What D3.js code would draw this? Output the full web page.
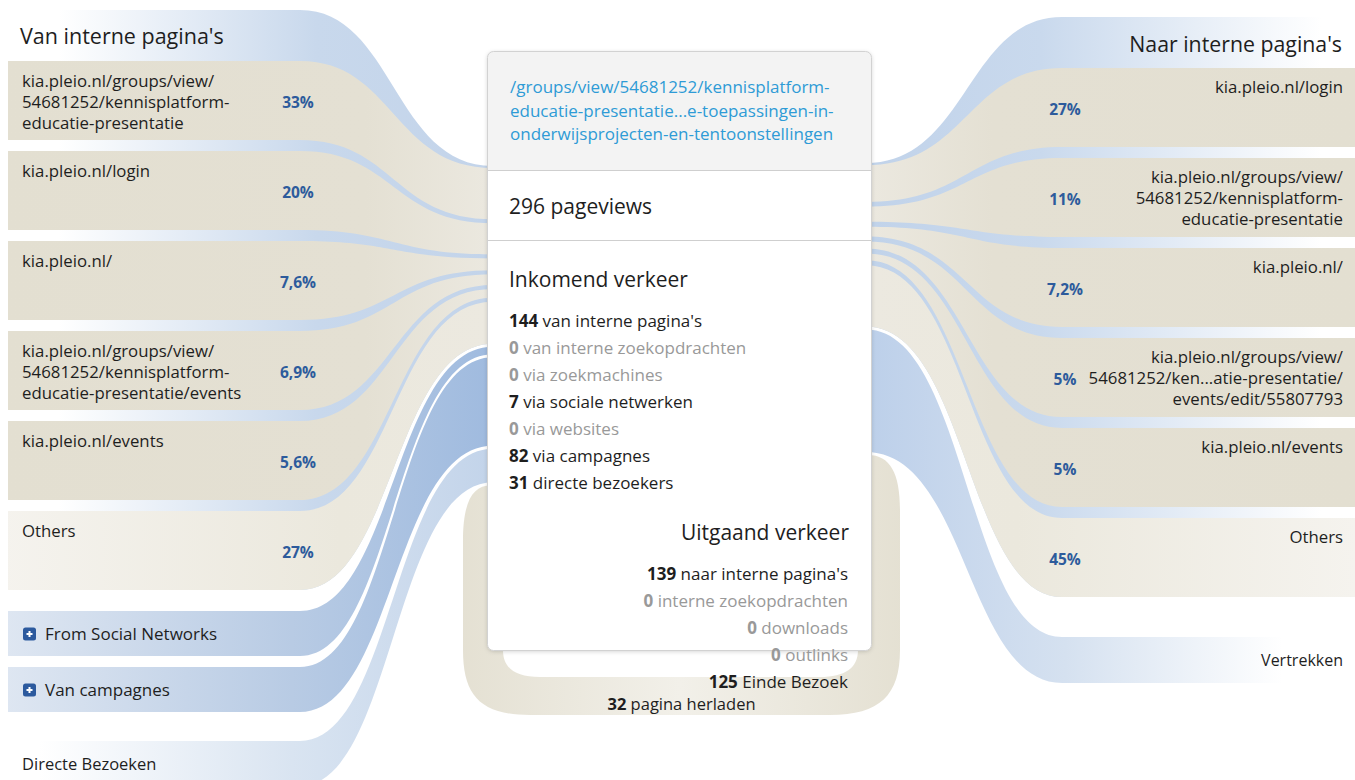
<!DOCTYPE html>
<html><head><meta charset="utf-8">
<script src="https://cdn.jsdelivr.net/npm/d3@7/dist/d3.min.js"></script>
<style>
html,body{margin:0;padding:0;background:#fff;overflow:hidden}
svg{display:block}
text{font-family:"Open Sans","Noto Sans",sans-serif}
</style></head>
<body><svg id="chart" width="1355" height="780"></svg>
<script>
// ---------------- data ----------------
const pageTitleLines = ["/groups/view/54681252/kennisplatform-", "educatie-presentatie...e-toepassingen-in-", "onderwijsprojecten-en-tentoonstellingen"];
const totalPageviews = 296;
const pageviewsLabel = "pageviews";
const incomingTitle = "Inkomend verkeer";
const incomingLabels = ["van interne pagina's", "van interne zoekopdrachten", "via zoekmachines", "via sociale netwerken", "via websites", "via campagnes", "directe bezoekers"];
const incomingValues = [144, 0, 0, 7, 0, 82, 31];
const outgoingTitle = "Uitgaand verkeer";
const outgoingLabels = ["naar interne pagina's", "interne zoekopdrachten", "downloads", "outlinks", "Einde Bezoek"];
const outgoingValues = [139, 0, 0, 0, 125];
const reloadValue = 32;
const reloadLabel = "pagina herladen";

const leftGroupTitle = "Van interne pagina's";
const fromPagesLabels = [
  ["kia.pleio.nl/groups/view/", "54681252/kennisplatform-", "educatie-presentatie"],
  ["kia.pleio.nl/login"],
  ["kia.pleio.nl/"],
  ["kia.pleio.nl/groups/view/", "54681252/kennisplatform-", "educatie-presentatie/events"],
  ["kia.pleio.nl/events"],
  ["Others"]
];
const fromPagesShares = [33, 20, 7.6, 6.9, 5.6, 27];

const rightGroupTitle = "Naar interne pagina's";
const toPagesLabels = [
  ["kia.pleio.nl/login"],
  ["kia.pleio.nl/groups/view/", "54681252/kennisplatform-", "educatie-presentatie"],
  ["kia.pleio.nl/"],
  ["kia.pleio.nl/groups/view/", "54681252/ken...atie-presentatie/", "events/edit/55807793"],
  ["kia.pleio.nl/events"],
  ["Others"]
];
const toPagesShares = [27, 11, 7.2, 5, 5, 45];

const leftSourceLabels = ["From Social Networks", "Van campagnes", "Directe Bezoeken"];
const leftSourceValues = [7, 82, 31];
const leftSourceExpandable = [true, true, false];
const exitLabel = "Vertrekken";
const exitValue = 125;

// ---------------- layout ----------------
const W = 1355, H = 780;
const BOX = {x: 487, y: 51, w: 385, h: 600};
const xCL = BOX.x, xCR = BOX.x + BOX.w;
const curveL0 = 300, curveR0 = 1062;
const xmL = (curveL0 + xCL) / 2, xmR = (curveR0 + xCR) / 2;
const leftEdge = 8, rightEdge = W;
const itemGapL = 4, itemGapR = 5, groupGap = 3;

const svg = d3.select("#chart");
const defs = svg.append("defs");
function hGrad(id, x1, x2, stops) {
  const g = defs.append("linearGradient").attr("id", id).attr("gradientUnits", "userSpaceOnUse")
    .attr("x1", x1).attr("x2", x2).attr("y1", 0).attr("y2", 0);
  stops.forEach(([o, c]) => g.append("stop").attr("offset", o).attr("stop-color", c));
}
hGrad("gGroupL", 0, xCL, [[0, "#ffffff"], [0.12, "#ffffff"], [0.65, "#c8d8ec"], [1, "#c3d4ea"]]);
hGrad("gGroupR", xCR, W, [[0, "#c1d3ea"], [0.35, "#c9d9ed"], [0.93, "#ffffff"], [1, "#ffffff"]]);
hGrad("gItemL", 0, xCL, [[0, "#e3dfd1"], [0.75, "#e4e0d3"], [1, "#ebe8df"]]);
hGrad("gItemR", xCR, W, [[0, "#ebe8df"], [0.25, "#e4e0d3"], [1, "#e3dfd1"]]);
hGrad("gOtherL", 0, xCL, [[0, "#f5f3ee"], [0.7, "#ebe8dd"], [1, "#ece9e0"]]);
hGrad("gOtherR", xCR, W, [[0, "#ece9e0"], [0.3, "#ebe8dd"], [1, "#f5f3ee"]]);
hGrad("gSrc", 0, xCL, [[0, "#dfe7f2"], [0.6, "#b8cbe4"], [1, "#a0bbdf"]]);
hGrad("gDirect", 0, xCL, [[0, "#ffffff"], [0.08, "#ffffff"], [0.6, "#d9e4f1"], [1, "#c3d4ea"]]);
hGrad("gExit", xCR, W, [[0, "#bdd0ea"], [0.4, "#d5e1f0"], [0.85, "#ffffff"], [1, "#ffffff"]]);
hGrad("gLoop", 455, 905, [[0, "#e4e0d2"], [0.5, "#f2f0e9"], [1, "#e4e0d2"]]);
const sh = defs.append("filter").attr("id", "shadow").attr("x", "-5%").attr("y", "-5%").attr("width", "110%").attr("height", "110%");
sh.append("feDropShadow").attr("dx", 0).attr("dy", 1).attr("stdDeviation", 2).attr("flood-color", "#000").attr("flood-opacity", 0.18);

// scales: pageviews -> thickness at the centre box
const sL = d3.scaleLinear().domain([0, totalPageviews]).range([0, totalPageviews * 1.08]);
const sR = d3.scaleLinear().domain([0, totalPageviews]).range([0, totalPageviews * 0.98]);
// item boxes on each side
const bandL = d3.scaleBand().domain(d3.range(fromPagesShares.length)).range([61, 61 + 90 * (6 - 11 / 90)]).paddingInner(11 / 90);
const bandR = d3.scaleBand().domain(d3.range(toPagesShares.length)).range([68, 68 + 90 * (6 - 11 / 90)]).paddingInner(11 / 90);
const srcBoxes = d3.scaleOrdinal().domain(leftSourceLabels).range([611, 667, 741]);
const srcH = 45;
const nl = d3.formatLocale({decimal: ",", thousands: ".", grouping: [3], currency: ["€", ""]});
const fmtPct = v => nl.format("~r")(v) + "%";

function leftRibbon(yT, yB, cT, cB) {
  const p = d3.path();
  p.moveTo(leftEdge, yT); p.lineTo(curveL0, yT);
  p.bezierCurveTo(xmL, yT, xmL, cT, xCL + 6, cT);
  p.lineTo(xCL + 6, cB);
  p.bezierCurveTo(xmL, cB, xmL, yB, curveL0, yB);
  p.lineTo(leftEdge, yB); p.closePath();
  return p.toString();
}
function rightRibbon(yT, yB, cT, cB) {
  const p = d3.path();
  p.moveTo(xCR - 6, cT);
  p.bezierCurveTo(xmR, cT, xmR, yT, curveR0, yT);
  p.lineTo(rightEdge, yT); p.lineTo(rightEdge, yB); p.lineTo(curveR0, yB);
  p.bezierCurveTo(xmR, yB, xmR, cB, xCR - 6, cB);
  p.closePath();
  return p.toString();
}

// ---- left centre stacking ----
const internalIn = incomingValues[0];
let cy = 168;
const leftItems = fromPagesShares.map((s, i) => {
  const h = sL(s / 100 * internalIn);
  const r = {t: cy, b: cy + h, yT: bandL(i), yB: bandL(i) + bandL.bandwidth()};
  cy += h + itemGapL;
  return r;
});
cy = leftItems[leftItems.length - 1].b + groupGap;
const leftSrc = leftSourceValues.map((v, i) => {
  const h = sL(v);
  const r = {t: cy, b: cy + h, yT: srcBoxes(leftSourceLabels[i]), yB: srcBoxes(leftSourceLabels[i]) + srcH};
  cy += h + groupGap;
  return r;
});
const loopLeftTop = cy;
const loopLeftBot = cy + sL(reloadValue);

// ---- right centre stacking ----
const internalOut = outgoingValues[0];
cy = 165;
const rightItems = toPagesShares.map((s, i) => {
  const h = sR(s / 100 * internalOut);
  const r = {t: cy, b: cy + h, yT: bandR(i), yB: bandR(i) + bandR.bandwidth()};
  cy += h + itemGapR;
  return r;
});
cy = rightItems[rightItems.length - 1].b + groupGap;
const exitBand = {t: cy, b: cy + sR(exitValue), yT: 637, yB: 683};
cy = exitBand.b + groupGap;
const loopRightTop = cy;
const loopRightBot = cy + sR(reloadValue);

// ---- draw left ----
const gl = svg.append("g");
gl.append("path").attr("d", leftRibbon(10, leftItems[5].yB, 166, leftItems[5].b)).attr("fill", "url(#gGroupL)");
gl.selectAll("path.item").data(leftItems).join("path").attr("class", "item")
  .attr("d", d => leftRibbon(d.yT, d.yB, d.t, d.b))
  .attr("fill", (d, i) => i === leftItems.length - 1 ? "url(#gOtherL)" : "url(#gItemL)");
gl.selectAll("path.src").data(leftSrc).join("path").attr("class", "src")
  .attr("d", d => leftRibbon(d.yT, d.yB, d.t, d.b))
  .attr("fill", (d, i) => leftSourceExpandable[i] ? "url(#gSrc)" : "url(#gDirect)");

// ---- draw right ----
const gr = svg.append("g");
gr.append("path").attr("d", rightRibbon(17, rightItems[5].yB, 163, rightItems[5].b)).attr("fill", "url(#gGroupR)");
gr.selectAll("path.item").data(rightItems).join("path").attr("class", "item")
  .attr("d", d => rightRibbon(d.yT, d.yB, d.t, d.b))
  .attr("fill", (d, i) => i === rightItems.length - 1 ? "url(#gOtherR)" : "url(#gItemR)");
gr.append("path").attr("d", rightRibbon(exitBand.yT, exitBand.yB, exitBand.t, exitBand.b)).attr("fill", "url(#gExit)");

// ---- reload loop ----
{
  const oL = 463, iL = 503, oR = 900, iR = 858, oB = 715, iB = 677;
  const p = d3.path();
  p.moveTo(xCL + 4, loopLeftTop);
  p.bezierCurveTo(472, loopLeftTop, oL, loopLeftTop + 18, oL, loopLeftTop + 55);
  p.lineTo(oL, 650);
  p.bezierCurveTo(oL, 695, 480, oB, 530, oB);
  p.lineTo(830, oB);
  p.bezierCurveTo(880, oB, oR, 695, oR, 650);
  p.lineTo(oR, loopRightTop + 55);
  p.bezierCurveTo(oR, loopRightTop + 18, 890, loopRightTop, xCR - 4, loopRightTop);
  p.lineTo(xCR - 4, loopRightBot);
  p.bezierCurveTo(850, loopRightBot, iR, loopRightBot + 20, iR, loopRightBot + 50);
  p.lineTo(iR, 650);
  p.bezierCurveTo(iR, 668, 845, iB, 820, iB);
  p.lineTo(540, iB);
  p.bezierCurveTo(515, iB, iL, 668, iL, 650);
  p.lineTo(iL, loopLeftBot + 50);
  p.bezierCurveTo(iL, loopLeftBot + 20, 495, loopLeftBot, xCL + 4, loopLeftBot);
  p.closePath();
  svg.append("path").attr("d", p.toString()).attr("fill", "url(#gLoop)");
}

// ---- centre box ----
const gb = svg.append("g");
gb.append("rect").attr("x", BOX.x + 0.5).attr("y", BOX.y + 0.5).attr("width", BOX.w - 1).attr("height", BOX.h - 1)
  .attr("rx", 6).attr("fill", "#fff").attr("filter", "url(#shadow)");
gb.append("path").attr("d", `M${BOX.x + 0.5},170 V${BOX.y + 6} Q${BOX.x + 0.5},${BOX.y + 0.5} ${BOX.x + 6},${BOX.y + 0.5} H${xCR - 6} Q${xCR - 0.5},${BOX.y + 0.5} ${xCR - 0.5},${BOX.y + 6} V170 Z`).attr("fill", "#f3f3f3");
gb.append("line").attr("x1", BOX.x).attr("x2", xCR).attr("y1", 170.5).attr("y2", 170.5).attr("stroke", "#cfcfcf");
gb.append("line").attr("x1", BOX.x).attr("x2", xCR).attr("y1", 240.5).attr("y2", 240.5).attr("stroke", "#cfcfcf");
gb.append("rect").attr("x", BOX.x + 0.5).attr("y", BOX.y + 0.5).attr("width", BOX.w - 1).attr("height", BOX.h - 1)
  .attr("rx", 6).attr("fill", "none").attr("stroke", "#d2d2d2");

const dark = "#1e1e1e";
gb.selectAll("text.title").data(pageTitleLines).join("text").attr("class", "title")
  .attr("x", 510).attr("y", (d, i) => 93 + i * 23.5).attr("font-size", 17).attr("fill", "#2e9bd6").text(d => d);
gb.append("text").attr("x", 509).attr("y", 214).attr("font-size", 21).attr("fill", dark).text(`${totalPageviews} ${pageviewsLabel}`);
gb.append("text").attr("x", 509).attr("y", 287).attr("font-size", 21).attr("fill", dark).text(incomingTitle);
const inT = gb.selectAll("text.in").data(incomingLabels).join("text").attr("class", "in")
  .attr("x", 509).attr("y", (d, i) => 327 + i * 27).attr("font-size", 17)
  .attr("fill", (d, i) => incomingValues[i] > 0 ? dark : "#999");
inT.append("tspan").attr("font-weight", "bold").text((d, i) => incomingValues[i]);
inT.append("tspan").text(d => " " + d);
gb.append("text").attr("x", 849).attr("y", 540).attr("text-anchor", "end").attr("font-size", 21).attr("fill", dark).text(outgoingTitle);
const outT = svg.selectAll("text.out").data(outgoingLabels).join("text").attr("class", "out")
  .attr("x", 848).attr("y", (d, i) => 580 + i * 27).attr("text-anchor", "end").attr("font-size", 17)
  .attr("fill", (d, i) => outgoingValues[i] > 0 ? dark : "#999");
outT.append("tspan").attr("font-weight", "bold").text((d, i) => outgoingValues[i]);
outT.append("tspan").text(d => " " + d);
const rl = svg.append("text").attr("x", BOX.x + BOX.w / 2 + 2).attr("y", 710).attr("text-anchor", "middle").attr("font-size", 16.5).attr("fill", dark);
rl.append("tspan").attr("font-weight", "bold").text(reloadValue);
rl.append("tspan").text(" " + reloadLabel);

// ---- side labels ----
const pctColor = "#2d5b9c";
svg.append("text").attr("x", 20).attr("y", 44).attr("font-size", 21.5).attr("fill", dark).text(leftGroupTitle);
svg.append("text").attr("x", 1342).attr("y", 52).attr("text-anchor", "end").attr("font-size", 21.3).attr("fill", dark).text(rightGroupTitle);

const lt = svg.append("g");
fromPagesLabels.forEach((lines, i) => {
  const t = lt.append("text").attr("font-size", 16.8).attr("fill", dark);
  lines.forEach((ln, j) => t.append("tspan").attr("x", 22).attr("y", bandL(i) + 26 + j * 21).text(ln));
  lt.append("text").attr("x", 298).attr("y", bandL(i) + 47).attr("text-anchor", "middle")
    .attr("font-size", 15.5).attr("font-weight", "bold").attr("fill", pctColor).text(fmtPct(fromPagesShares[i]));
});
toPagesLabels.forEach((lines, i) => {
  const t = lt.append("text").attr("font-size", 16.8).attr("fill", dark).attr("text-anchor", "end");
  lines.forEach((ln, j) => t.append("tspan").attr("x", 1343).attr("y", bandR(i) + 25 + j * 21).text(ln));
  lt.append("text").attr("x", 1065).attr("y", bandR(i) + 47).attr("text-anchor", "middle")
    .attr("font-size", 15.5).attr("font-weight", "bold").attr("fill", pctColor).text(fmtPct(toPagesShares[i]));
});
leftSourceLabels.forEach((lab, i) => {
  const y0 = srcBoxes(lab);
  const hasIcon = leftSourceExpandable[i];
  if (hasIcon) {
    lt.append("rect").attr("x", 23).attr("y", y0 + 16.5).attr("width", 13).attr("height", 13).attr("rx", 2.5).attr("fill", "#2c5a9e");
    lt.append("path").attr("d", `M26.5,${y0 + 23} H32.5 M29.5,${y0 + 20} V${y0 + 26}`).attr("stroke", "#fff").attr("stroke-width", 2);
  }
  lt.append("text").attr("x", hasIcon ? 45 : 22).attr("y", y0 + 29).attr("font-size", hasIcon ? 17 : 16.5).attr("fill", dark).text(lab);
});
svg.append("text").attr("x", 1343).attr("y", exitBand.yT + 29).attr("text-anchor", "end").attr("font-size", 16).attr("fill", dark).text(exitLabel);
</script>
</body></html>
